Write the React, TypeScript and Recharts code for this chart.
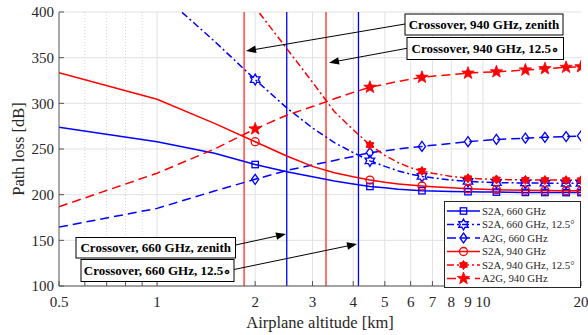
import React from 'react';
import { LineChart, Line, XAxis, YAxis, CartesianGrid, ReferenceLine, Legend } from 'recharts';

// airplane altitude samples [km]
const altitude = [0.5, 1, 1.5, 2, 2.5, 3, 3.5, 4, 4.5, 5, 5.5, 6, 6.5, 7, 8, 9, 10, 11, 12, 13.5, 15.5, 18, 20];

// path loss [dB]
const s2a660 = [273.8, 258, 245.3, 233, 225, 219.7, 215, 211.7, 209, 207.5, 206, 205, 204.3, 204, 203.6, 203.3, 203, 202.8, 202.7, 202.5, 202.4, 202.3, 202.3];
const s2a660Tilt = [520, 424, 368, 326, 295, 273, 257, 246, 237, 231, 226, 222.5, 220, 218.5, 216, 214.5, 213.8, 213.3, 213, 212.8, 212.6, 212.5, 212.5];
const a2g660 = [164.5, 185, 204, 216.8, 226.5, 232.5, 237.5, 241.8, 246, 248, 250, 251.5, 252.8, 254, 256, 258, 259.3, 260.5, 261, 261.8, 262.8, 263.6, 264.3];
const s2a940 = [333.5, 304.4, 278, 258, 242.3, 231, 224, 219.5, 216, 213.5, 211.8, 210.5, 209.5, 208.7, 207.5, 206.5, 206, 205.5, 205.2, 204.9, 204.6, 204.4, 204.3];
const s2a940Tilt = [620, 500, 445, 405, 360, 323, 291, 271, 254.4, 243, 235, 229.5, 226, 223.5, 220, 218, 217.2, 216.7, 216.4, 216.2, 216, 215.9, 215.8];
const a2g940 = [186.8, 223.5, 250, 272, 287, 296.5, 305, 312, 317.6, 321, 324, 326.5, 328.5, 329.7, 331.5, 333, 334, 334.5, 335.3, 336.5, 338, 339.4, 340];

const markerAltitudes = [2, 4.5, 6.5, 9, 11, 13.5, 15.5, 18, 20];

const xTicks = [0.5, 1, 2, 3, 4, 5, 6, 7, 8, 9, 10, 20];
const xMinor = [0.6, 0.7, 0.8, 0.9, 11, 12, 13, 14, 15, 16, 17, 18, 19];
const xMinorGrid = [0.6, 0.7, 0.8, 0.9];
const yTicks = [100, 150, 200, 250, 300, 350, 400];

const crossover660 = [2.5, 4.15];
const crossover940 = [1.85, 3.3];

const BLUE = '#0000ff';
const RED = '#ff0000';

const series = [
  { key: 's2a660', name: 'S2A, 660 GHz', color: BLUE, dash: undefined, marker: 'square' },
  { key: 's2a660Tilt', name: 'S2A, 660 GHz, 12.5\u00b0', color: BLUE, dash: '7 3 2 3', marker: 'hexagram' },
  { key: 'a2g660', name: 'A2G, 660 GHz', color: BLUE, dash: '9 5', marker: 'diamond' },
  { key: 's2a940', name: 'S2A, 940 GHz', color: RED, dash: undefined, marker: 'circle' },
  { key: 's2a940Tilt', name: 'S2A, 940 GHz, 12.5\u00b0', color: RED, dash: '7 3 2 3', marker: 'dot' },
  { key: 'a2g940', name: 'A2G, 940 GHz', color: RED, dash: '9 5', marker: 'star' },
];

const data = altitude.map((alt, i) => ({
  alt,
  s2a660: s2a660[i],
  s2a660Tilt: s2a660Tilt[i],
  a2g660: a2g660[i],
  s2a940: s2a940[i],
  s2a940Tilt: s2a940Tilt[i],
  a2g940: a2g940[i],
}));

function starPoints(cx: number, cy: number, n: number, ro: number, ri: number) {
  const pts: string[] = [];
  for (let k = 0; k < n * 2; k++) {
    const r = k % 2 === 0 ? ro : ri;
    const a = -Math.PI / 2 + (k * Math.PI) / n;
    pts.push(`${cx + r * Math.cos(a)},${cy + r * Math.sin(a)}`);
  }
  return pts.join(' ');
}

function Marker({ kind, x, y, color }: { kind: string; x: number; y: number; color: string }) {
  const sw = 1.3;
  switch (kind) {
    case 'square':
      return <rect x={x - 3.2} y={y - 3.2} width={6.4} height={6.4} fill="none" stroke={color} strokeWidth={sw} />;
    case 'circle':
      return <circle cx={x} cy={y} r={4} fill="none" stroke={color} strokeWidth={sw} />;
    case 'diamond':
      return <polygon points={`${x},${y - 5} ${x + 3.6},${y} ${x},${y + 5} ${x - 3.6},${y}`} fill="none" stroke={color} strokeWidth={sw} />;
    case 'hexagram':
      return <polygon points={starPoints(x, y, 6, 5.5, 3.2)} fill="none" stroke={color} strokeWidth={sw} />;
    case 'dot':
      return <polygon points={starPoints(x, y, 6, 4.5, 2.8)} fill={color} stroke={color} strokeWidth={1} />;
    case 'star':
      return <polygon points={starPoints(x, y, 5, 6.5, 2.7)} fill={color} stroke={color} strokeWidth={0.8} />;
    default:
      return null;
  }
}

const makeDot = (kind: string, color: string) => (props: any) => {
  const { cx, cy, payload, index } = props;
  if (cx == null || cy == null || !markerAltitudes.includes(payload.alt)) return <g key={`d-${index}`} />;
  return (
    <g key={`d-${index}`}>
      <Marker kind={kind} x={cx} y={cy} color={color} />
    </g>
  );
};

function renderLegend() {
  return (
    <svg width={137} height={87} style={{ display: 'block' }}>
      <rect x={0.5} y={0.5} width={136} height={86} fill="#fff" stroke="#262626" strokeWidth={1} />
      {series.map((s, i) => {
        const y = 10 + i * 13.5;
        return (
          <g key={s.key}>
            <line x1={3} x2={36} y1={y} y2={y} stroke={s.color} strokeWidth={1.5} strokeDasharray={s.dash} />
            <Marker kind={s.marker} x={19.5} y={y} color={s.color} />
            <text x={38} y={y + 3.8} fontSize={10.8} fill="#262626" fontFamily='"Liberation Serif", serif'>
              {s.name}
            </text>
          </g>
        );
      })}
    </svg>
  );
}

function Arrow({ x1, y1, x2, y2 }: { x1: number; y1: number; x2: number; y2: number }) {
  const a = Math.atan2(y2 - y1, x2 - x1);
  const len = 10;
  const hw = 3.8;
  const bx = x2 - len * Math.cos(a);
  const by = y2 - len * Math.sin(a);
  const px = -Math.sin(a) * hw;
  const py = Math.cos(a) * hw;
  return (
    <g>
      <line x1={x1} y1={y1} x2={bx} y2={by} stroke="#000" strokeWidth={1} />
      <polygon points={`${x2},${y2} ${bx + px},${by + py} ${bx - px},${by - py}`} fill="#000" />
    </g>
  );
}

const notes = [
  { text: 'Crossover, 940 GHz, zenith', box: [405, 14, 158, 21], from: [405, 24], to: [246, 51] },
  { text: 'Crossover, 940 GHz, 12.5\u2218', box: [407, 37.5, 156.5, 22], from: [407, 48.3], to: [329, 62.7] },
  { text: 'Crossover, 660 GHz, zenith', box: [76, 237.5, 159.5, 20.5], from: [235.5, 245], to: [286, 234] },
  { text: 'Crossover, 660 GHz, 12.5\u2218', box: [81, 259.5, 153, 22], from: [234, 269.5], to: [357, 244] },
];

export default function App() {
  const allTicks = [...xTicks, ...xMinor].sort((a, b) => a - b);
  const tickFmt = (v: number) => (xTicks.includes(v) ? String(v) : '');
  return (
    <div style={{ position: 'absolute', left: 0, top: 0, width: 588, height: 335, background: '#fff' }}>
      <LineChart
        width={588}
        height={335}
        data={data}
        margin={{ top: 12, right: 7, left: 9, bottom: 4 }}
        style={{ fontFamily: '"Liberation Serif", "Times New Roman", serif' }}
      >
        <CartesianGrid vertical={false} stroke="#e2e2e2" strokeWidth={1} />
        {xMinorGrid.map((v) => (
          <ReferenceLine key={`mn-${v}`} x={v} stroke="#d4d4d4" strokeDasharray="1 2" strokeWidth={1} />
        ))}
        {xTicks.filter((v) => v >= 1 && v <= 10).map((v) => (
          <ReferenceLine key={`mj-${v}`} x={v} stroke="#e2e2e2" strokeWidth={1} />
        ))}
        {crossover940.map((v) => (
          <ReferenceLine key={`c940-${v}`} x={v} stroke="#ff6262" strokeWidth={1.8} />
        ))}
        {crossover660.map((v) => (
          <ReferenceLine key={`c660-${v}`} x={v} stroke={BLUE} strokeWidth={1.3} />
        ))}
        <XAxis
          dataKey="alt"
          type="number"
          scale="log"
          domain={[0.5, 20]}
          allowDataOverflow
          ticks={allTicks}
          tickFormatter={tickFmt}
          interval={0}
          tickSize={-5}
          tickMargin={15}
          height={45}
          stroke="#555"
          tick={{ fill: '#262626', fontSize: 15 }}
          label={{ value: 'Airplane altitude [km]', position: 'insideBottom', offset: 3, fill: '#262626', fontSize: 16.5 }}
        />
        <XAxis
          xAxisId="top"
          orientation="top"
          dataKey="alt"
          type="number"
          scale="log"
          domain={[0.5, 20]}
          allowDataOverflow
          ticks={allTicks}
          tickFormatter={() => ''}
          interval={0}
          tickSize={-5}
          height={0}
          stroke="#555"
        />
        <YAxis
          type="number"
          domain={[100, 400]}
          allowDataOverflow
          ticks={yTicks}
          interval={0}
          tickSize={-5}
          tickMargin={10}
          width={50}
          stroke="#555"
          tick={{ fill: '#262626', fontSize: 15 }}
          label={{ value: 'Path loss [dB]', angle: -90, position: 'insideLeft', offset: 9, fill: '#262626', fontSize: 16.5, style: { textAnchor: 'middle' } }}
        />
        <YAxis
          yAxisId="right"
          orientation="right"
          type="number"
          domain={[100, 400]}
          ticks={yTicks}
          tickFormatter={() => ''}
          tickSize={-5}
          width={0}
          stroke="#555"
        />
        {series.map((s) => (
          <Line
            key={s.key}
            dataKey={s.key}
            name={s.name}
            type="linear"
            stroke={s.color}
            strokeWidth={1.5}
            strokeDasharray={s.dash}
            dot={makeDot(s.marker, s.color)}
            activeDot={false}
            isAnimationActive={false}
          />
        ))}
        <Legend
          layout="vertical"
          align="center"
          verticalAlign="middle"
          content={renderLegend}
          wrapperStyle={{ position: 'absolute', left: 444, top: 201, width: 137, height: 87 }}
        />
      </LineChart>
      <svg width={588} height={335} style={{ position: 'absolute', left: 0, top: 0, pointerEvents: 'none' }}>
        {notes.map((n) => (
          <g key={n.text}>
            <Arrow x1={n.from[0]} y1={n.from[1]} x2={n.to[0]} y2={n.to[1]} />
            <rect x={n.box[0]} y={n.box[1]} width={n.box[2]} height={n.box[3]} fill="#fff" stroke="#000" strokeWidth={1} />
            <text
              x={n.box[0] + n.box[2] / 2}
              y={n.box[1] + n.box[3] / 2 + 4.5}
              textAnchor="middle"
              fontSize={13}
              fontWeight="bold"
              fontFamily='"Liberation Serif", "Times New Roman", serif'
              fill="#000"
            >
              {n.text}
            </text>
          </g>
        ))}
      </svg>
    </div>
  );
}
